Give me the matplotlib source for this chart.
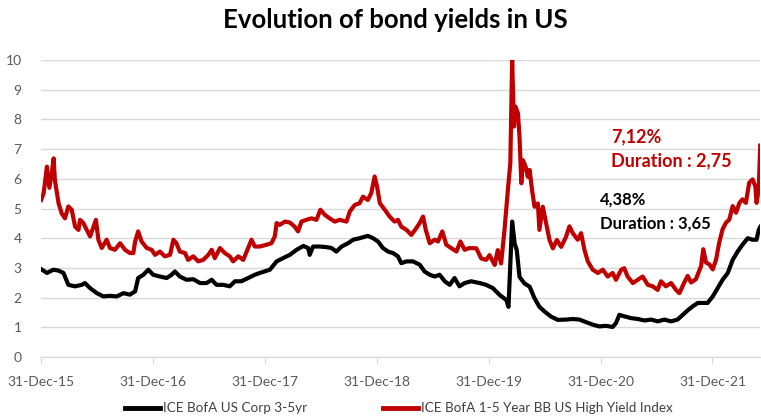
import matplotlib
matplotlib.use("Agg")
import matplotlib.pyplot as plt
import matplotlib.dates as mdates
import pandas as pd

# ICE BofA 1-5 Year BB US High Yield Index (red)
hy_dates = [
    "2015-12-31", "2016-01-08", "2016-01-13", "2016-01-19", "2016-01-27", "2016-02-04", "2016-02-10",
    "2016-02-14", "2016-02-26", "2016-03-07", "2016-03-18", "2016-03-29", "2016-04-09", "2016-04-20",
    "2016-05-01", "2016-05-06", "2016-05-17", "2016-05-28", "2016-06-08", "2016-06-19", "2016-06-27",
    "2016-07-05", "2016-07-16", "2016-08-01", "2016-08-12", "2016-08-28", "2016-09-14", "2016-09-30",
    "2016-10-16", "2016-10-27", "2016-11-02", "2016-11-12", "2016-11-23", "2016-12-10", "2016-12-26",
    "2017-01-06", "2017-01-22", "2017-02-07", "2017-02-24", "2017-03-07", "2017-03-17", "2017-03-28",
    "2017-04-14", "2017-04-24", "2017-05-11", "2017-05-27", "2017-06-12", "2017-06-29", "2017-07-10",
    "2017-07-20", "2017-08-06", "2017-08-22", "2017-09-07", "2017-09-18", "2017-10-05", "2017-10-21",
    "2017-11-06", "2017-11-17", "2017-11-28", "2017-12-14", "2018-01-05", "2018-01-21", "2018-02-01",
    "2018-02-07", "2018-02-17", "2018-03-06", "2018-03-22", "2018-04-07", "2018-04-18", "2018-04-29",
    "2018-05-15", "2018-06-01", "2018-06-17", "2018-06-30", "2018-07-14", "2018-07-30", "2018-08-16",
    "2018-09-01", "2018-09-23", "2018-10-04", "2018-10-20", "2018-11-05", "2018-11-16", "2018-12-02",
    "2018-12-13", "2018-12-24", "2019-01-01", "2019-01-10", "2019-01-26", "2019-02-11", "2019-02-27",
    "2019-03-10", "2019-03-21", "2019-04-07", "2019-04-23", "2019-05-09", "2019-05-20", "2019-05-31",
    "2019-06-09", "2019-06-22", "2019-07-08", "2019-07-19", "2019-08-02", "2019-08-15", "2019-08-31",
    "2019-09-17", "2019-09-30", "2019-10-14", "2019-10-30", "2019-11-21", "2019-12-07", "2019-12-23",
    "2020-01-03", "2020-01-20", "2020-01-30", "2020-02-10", "2020-02-21", "2020-03-03", "2020-03-11",
    "2020-03-17", "2020-03-23", "2020-03-28", "2020-04-05", "2020-04-10", "2020-04-16", "2020-04-21",
    "2020-04-30", "2020-05-07", "2020-05-13", "2020-05-21", "2020-05-29", "2020-06-09", "2020-06-14",
    "2020-06-25", "2020-07-06", "2020-07-17", "2020-07-28", "2020-08-10", "2020-08-24", "2020-09-09",
    "2020-09-20", "2020-10-01", "2020-10-17", "2020-10-28", "2020-11-08", "2020-11-19", "2020-12-05",
    "2020-12-22", "2021-01-07", "2021-01-23", "2021-02-08", "2021-02-19", "2021-03-08", "2021-03-18",
    "2021-03-29", "2021-04-15", "2021-05-01", "2021-05-17", "2021-06-03", "2021-06-19", "2021-07-05",
    "2021-07-16", "2021-08-01", "2021-08-18", "2021-09-03", "2021-09-14", "2021-09-30", "2021-10-11",
    "2021-10-22", "2021-11-07", "2021-11-24", "2021-12-01", "2021-12-10", "2021-12-21", "2022-01-01",
    "2022-01-12", "2022-01-22", "2022-02-02", "2022-02-13", "2022-02-24", "2022-03-07", "2022-03-18",
    "2022-03-29", "2022-04-08", "2022-04-19", "2022-04-30", "2022-05-11", "2022-05-20", "2022-05-24",
    "2022-05-31", "2022-06-05",
]
hy_yield = [
    5.29, 5.50, 5.90, 6.41, 5.70, 6.20, 6.69,
    5.96, 5.18, 4.84, 4.67, 5.07, 4.96, 4.39,
    4.28, 4.62, 4.51, 4.28, 4.06, 4.39, 4.62,
    3.95, 3.67, 3.95, 3.67, 3.61, 3.83, 3.61,
    3.50, 3.50, 3.89, 4.23, 3.89, 3.67, 3.61,
    3.44, 3.55, 3.39, 3.44, 3.95, 3.83, 3.55,
    3.50, 3.27, 3.39, 3.22, 3.27, 3.44, 3.61,
    3.33, 3.67, 3.50, 3.39, 3.22, 3.39, 3.27,
    3.67, 3.95, 3.72, 3.72, 3.78, 3.83, 4.06,
    4.51, 4.45, 4.56, 4.53, 4.39, 4.23, 4.56,
    4.62, 4.67, 4.62, 4.96, 4.79, 4.67, 4.56,
    4.62, 4.56, 4.90, 5.12, 5.18, 5.40, 5.29,
    5.52, 6.08, 5.74, 5.18, 4.96, 4.73, 4.56,
    4.62, 4.39, 4.28, 4.11, 4.34, 4.51, 4.73,
    4.28, 3.83, 3.95, 3.89, 4.23, 3.78, 3.67,
    3.55, 3.89, 3.61, 3.67, 3.66, 3.32, 3.27,
    3.43, 3.10, 3.60, 3.15, 4.28, 5.62, 6.52,
    10.0, 7.76, 8.43, 8.20, 7.42, 5.85, 6.63,
    6.41, 6.07, 6.30, 5.62, 5.06, 5.17, 4.28,
    5.06, 4.50, 3.94, 3.66, 3.94, 3.71, 4.05,
    4.40, 4.17, 3.95, 4.17, 3.61, 3.22, 2.94,
    2.83, 2.94, 2.71, 2.83, 2.60, 2.94, 2.99,
    2.71, 2.49, 2.60, 2.71, 2.43, 2.38, 2.26,
    2.55, 2.38, 2.49, 2.26, 2.15, 2.51, 2.73,
    2.51, 2.62, 3.07, 3.63, 3.18, 3.12, 2.95,
    3.29, 3.85, 4.30, 4.52, 4.63, 5.08, 4.86,
    5.19, 5.31, 5.19, 5.87, 5.98, 5.75, 5.19,
    5.64, 7.12,
]

# ICE BofA US Corp 3-5yr (black)
ig_dates = [
    "2015-12-31", "2016-01-19", "2016-02-09", "2016-02-26", "2016-03-13", "2016-03-29", "2016-04-20",
    "2016-05-12", "2016-05-22", "2016-06-08", "2016-06-30", "2016-07-21", "2016-08-12", "2016-09-03",
    "2016-09-25", "2016-10-16", "2016-11-02", "2016-11-12", "2016-11-29", "2016-12-15", "2016-12-31",
    "2017-01-22", "2017-02-13", "2017-03-01", "2017-03-12", "2017-03-28", "2017-04-19", "2017-05-11",
    "2017-06-02", "2017-06-23", "2017-07-10", "2017-07-26", "2017-08-17", "2017-09-07", "2017-09-24",
    "2017-10-15", "2017-11-06", "2017-11-28", "2017-12-14", "2018-01-16", "2018-02-07", "2018-02-28",
    "2018-03-22", "2018-04-13", "2018-05-05", "2018-05-21", "2018-05-26", "2018-06-06", "2018-06-28",
    "2018-07-20", "2018-08-05", "2018-08-21", "2018-09-07", "2018-09-28", "2018-10-15", "2018-11-05",
    "2018-12-02", "2018-12-19", "2019-01-04", "2019-01-20", "2019-02-06", "2019-02-22", "2019-03-10",
    "2019-03-21", "2019-04-07", "2019-04-28", "2019-05-20", "2019-06-05", "2019-06-22", "2019-07-08",
    "2019-07-24", "2019-08-10", "2019-08-26", "2019-09-11", "2019-09-27", "2019-10-14", "2019-11-04",
    "2019-12-02", "2019-12-23", "2020-01-14", "2020-01-30", "2020-02-05", "2020-02-27", "2020-03-05",
    "2020-03-11", "2020-03-17", "2020-03-25", "2020-04-01", "2020-04-10", "2020-04-26", "2020-05-13",
    "2020-05-29", "2020-06-14", "2020-07-01", "2020-07-22", "2020-08-13", "2020-09-09", "2020-10-01",
    "2020-10-23", "2020-11-14", "2020-12-05", "2020-12-27", "2021-01-18", "2021-02-08", "2021-02-19",
    "2021-03-02", "2021-03-18", "2021-04-09", "2021-05-01", "2021-05-23", "2021-06-14", "2021-07-05",
    "2021-07-27", "2021-08-18", "2021-09-08", "2021-09-25", "2021-10-11", "2021-10-27", "2021-11-13",
    "2021-11-29", "2021-12-15", "2022-01-01", "2022-01-17", "2022-02-02", "2022-02-19", "2022-03-07",
    "2022-03-23", "2022-04-08", "2022-04-25", "2022-05-11", "2022-05-24", "2022-05-31", "2022-06-05",
]
ig_yield = [
    2.96, 2.83, 2.94, 2.91, 2.83, 2.43, 2.38,
    2.43, 2.49, 2.32, 2.15, 2.04, 2.06, 2.04,
    2.15, 2.10, 2.21, 2.66, 2.77, 2.94, 2.77,
    2.71, 2.66, 2.77, 2.88, 2.71, 2.60, 2.62,
    2.49, 2.49, 2.60, 2.43, 2.43, 2.38, 2.55,
    2.55, 2.66, 2.77, 2.83, 2.94, 3.22, 3.33,
    3.44, 3.61, 3.74, 3.67, 3.44, 3.72, 3.72,
    3.70, 3.67, 3.55, 3.72, 3.83, 3.95, 4.00,
    4.08, 4.00, 3.89, 3.67, 3.55, 3.50, 3.39,
    3.16, 3.22, 3.22, 3.11, 2.88, 2.77, 2.71,
    2.77, 2.55, 2.43, 2.66, 2.38, 2.49, 2.55,
    2.49, 2.43, 2.32, 2.15, 2.09, 1.92, 1.69,
    3.15, 4.56, 3.83, 3.60, 2.70, 2.48, 2.37,
    1.98, 1.69, 1.53, 1.36, 1.25, 1.26, 1.28,
    1.26, 1.17, 1.09, 1.03, 1.05, 1.01, 1.14,
    1.42, 1.37, 1.31, 1.28, 1.23, 1.26, 1.20,
    1.26, 1.20, 1.26, 1.42, 1.57, 1.70, 1.82,
    1.82, 1.82, 2.04, 2.32, 2.60, 2.83, 3.27,
    3.55, 3.78, 4.00, 3.95, 3.95, 4.28, 4.38,
]

tick_dates = ["2015-12-31", "2016-12-31", "2017-12-31", "2018-12-31",
              "2019-12-31", "2020-12-31", "2021-12-31"]

RED = "#C00000"
GREY = "#595959"
plt.rcParams['font.family'] = ['Lato', 'DejaVu Sans']

fig = plt.figure(figsize=(7.61, 4.20), dpi=100)
ax = fig.add_axes([0.054, 0.15, 0.945, 0.707])

ax.plot(pd.to_datetime(hy_dates), hy_yield, color=RED, lw=3.0,
        label="ICE BofA 1-5 Year BB US High Yield Index", zorder=3,
        solid_joinstyle="round")
ax.plot(pd.to_datetime(ig_dates), ig_yield, color="black", lw=3.0,
        label="ICE BofA US Corp 3-5yr", zorder=4, solid_joinstyle="round")

ax.set_ylim(0, 10)
ax.set_yticks(range(0, 11))
ax.set_xlim(pd.Timestamp("2015-12-31"), pd.Timestamp("2022-06-05"))
ax.set_xticks(pd.to_datetime(tick_dates))
ax.xaxis.set_major_formatter(mdates.DateFormatter("%d-%b-%y"))

ax.grid(axis="y", color="#d9d9d9", lw=1)
ax.set_axisbelow(True)
for s in ["top", "right", "left"]:
    ax.spines[s].set_visible(False)
ax.spines["bottom"].set_color("#d9d9d9")
ax.tick_params(axis="y", length=0, pad=14, labelsize=10, labelcolor=GREY)
ax.tick_params(axis="x", length=5, color="#d9d9d9", pad=9, labelsize=10,
               labelcolor=GREY)

fig.text(0.52, 0.952, "Evolution of bond yields in US", ha="center", va="center",
         fontsize=18.5, fontweight="bold")

ax.text(0.793, 0.702, "7,12%\nDuration : 2,75", transform=ax.transAxes, color=RED,
        fontsize=13, fontweight="bold", va="center", ha="left", linespacing=1.5)
ax.text(0.777, 0.49, "4,38%\nDuration : 3,65", transform=ax.transAxes, color="black",
        fontsize=12, fontweight="bold", va="center", ha="left", linespacing=1.6)

h, l = ax.get_legend_handles_labels()
leg = fig.legend(h[::-1], l[::-1], loc="center", bbox_to_anchor=(0.524, 0.028), ncol=2,
                 frameon=False, fontsize=9.7, handlelength=2.6, handletextpad=0.25,
                 columnspacing=5.6)
for t in leg.get_texts():
    t.set_color("#404040")
for ln in leg.get_lines():
    ln.set_linewidth(3.5)

fig.savefig("out.png", dpi=100)
